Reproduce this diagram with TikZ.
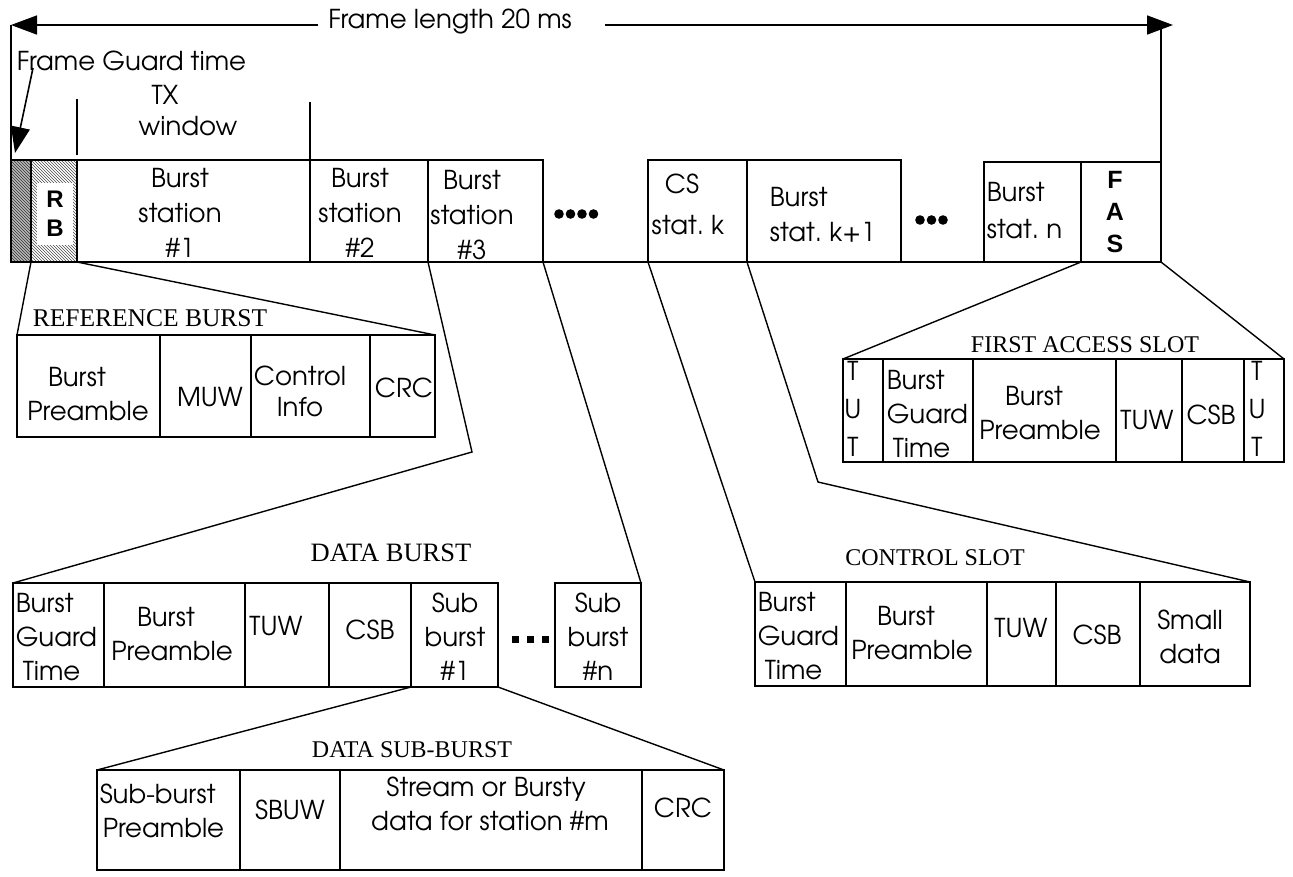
\documentclass[tikz,border=0pt]{standalone}
\usepackage{fontspec}
\setmainfont{texgyreadventor}[Extension=.otf,UprightFont=*-regular,BoldFont=*-bold]
\newfontfamily\ttlfont{Liberation Serif}
\newfontfamily\boldsans{Liberation Sans}
\usetikzlibrary{arrows.meta,patterns}
\begin{document}
\begin{tikzpicture}[x=1pt,y=-1pt,line width=1.6pt,
  cellbox/.style={draw,rectangle,inner sep=0pt,outer sep=0pt,anchor=north west},
  txt/.style={font=\fontsize{26}{34}\selectfont,inner sep=0pt,align=center},
  ttl/.style={font=\ttlfont\fontsize{24}{26}\selectfont,inner sep=0pt},
  conn/.style={line width=1.4pt},
  bigarrow/.style={-{Triangle[length=26pt,width=19pt]},line width=1.6pt}]
\useasboundingbox (0,0) rectangle (1293,876);
% ---------- top arrows ----------
\node[txt] (fl) at (450,22) {Frame length 20 ms};
\coordinate (tl) at (11,25);
\coordinate (tr) at (1173,25);
\coordinate (fla) at (318,25);
\coordinate (flb) at (605,25);
\coordinate (trv) at (1161,25);
\draw[bigarrow] (fla) -- (tl);
\draw[bigarrow] (flb) -- (tr);
\node[txt,anchor=west] (fgt) at (16,61) {Frame Guard time};
\coordinate (ga) at (33,68);
\coordinate (gb) at (15,153);
\draw[bigarrow] (ga) -- (gb);
\node[txt] (ttx) at (165,95) {TX};
\node[txt] (twin) at (188,126) {window};
\coordinate (tx1a) at (77,99);
\coordinate (tx1b) at (77,155);
\coordinate (tx2a) at (310,102);
\draw (tx1a) -- (tx1b);
% ---------- main bar ----------
\node[cellbox,minimum width=20pt,minimum height=102pt,preaction={fill=gray!55},pattern=north west lines,pattern color=black!80] (fg) at (11,160) {};
\node[cellbox,minimum width=46pt,minimum height=102pt,pattern=north west lines,pattern color=black!70] (rb) at (31,160) {};
\node[fill=white,inner sep=0pt,minimum width=36pt,minimum height=62pt,align=center,font=\boldsans\bfseries\fontsize{24}{29}\selectfont] (rbl) at (55,214) {R\\B};
\draw (rb.north west) rectangle (rb.south east);
\node[cellbox,minimum width=233pt,minimum height=102pt] (b1) at (77,160) {};
\node[cellbox,minimum width=118pt,minimum height=102pt] (b2) at (310,160) {};
\node[cellbox,minimum width=115pt,minimum height=102pt] (b3) at (428,160) {};
\node[cellbox,minimum width=99pt,minimum height=102pt] (cs) at (648,160) {};
\node[cellbox,minimum width=154pt,minimum height=102pt] (bk) at (747,160) {};
\node[cellbox,minimum width=97pt,minimum height=100pt] (bn) at (984,162) {};
\node[cellbox,minimum width=80pt,minimum height=100pt] (fas) at (1081,162) {};
\draw (fg.south west) -- (fas.south east);
\draw (tl) -- (fg.north west);
\draw (trv) -- (fas.north east);
\draw (tx2a) -- (b1.north east);
\node[txt,font=\fontsize{26}{35}\selectfont] (tb1) at (180,213) {Burst\\station\\\#1};
\node[txt,font=\fontsize{26}{35}\selectfont] (tb2) at (360,213) {Burst\\station\\\#2};
\node[txt,font=\fontsize{26}{35}\selectfont] (tb3) at (472,215) {Burst\\station\\\#3};
\node[txt] (tcs1) at (682,184) {CS};
\node[txt] (tcs2) at (688,225) {stat.\ k};
\node[txt,anchor=west,align=left,font=\fontsize{26}{35}\selectfont] (tbk) at (769,215) {Burst\\stat.\ k+1};
\node[txt,anchor=west,align=left,font=\fontsize{26}{37}\selectfont] (tbn) at (986,211) {Burst\\stat.\ n};
\node[txt,font=\boldsans\bfseries\fontsize{25}{32}\selectfont] (tfas) at (1115,212) {F\\A\\S};
\foreach \i in {0,...,3} \fill (559+\i*11.5,214) circle (4.8pt);
\foreach \i in {0,...,2} \fill (920+\i*11.5,220) circle (4.8pt);
% ---------- reference burst ----------
\node[ttl,font=\ttlfont\fontsize{25.5}{27}\selectfont] (trb) at (150,318) {REFERENCE BURST};
\node[cellbox,minimum width=143pt,minimum height=102pt] (r1) at (17,335) {};
\node[cellbox,minimum width=91pt,minimum height=102pt] (r2) at (160,335) {};
\node[cellbox,minimum width=119pt,minimum height=102pt] (r3) at (251,335) {};
\node[cellbox,minimum width=65pt,minimum height=102pt] (r4) at (370,335) {};
\node[txt] (tr1) at (88,394) {\hspace*{-22pt}Burst\\Preamble};
\node[txt] (tr2) at (210,397) {MUW};
\node[txt,font=\fontsize{26}{31}\selectfont] (tr3) at (300,391) {Control\\Info};
\node[txt] (tr4) at (404,388) {CRC};
\draw[conn] (fg.south east) -- (r1.north west);
\draw[conn] (rb.south east) -- (r4.north east);
% ---------- data burst ----------
\node[ttl,font=\ttlfont\fontsize{26.5}{28}\selectfont] (tdb) at (391,553) {DATA BURST};
\node[cellbox,minimum width=91pt,minimum height=104pt] (d1) at (13,583) {};
\node[cellbox,minimum width=141pt,minimum height=104pt] (d2) at (104,583) {};
\node[cellbox,minimum width=84pt,minimum height=104pt] (d3) at (245,583) {};
\node[cellbox,minimum width=82pt,minimum height=104pt] (d4) at (329,583) {};
\node[cellbox,minimum width=87pt,minimum height=104pt] (d5) at (411,583) {};
\node[cellbox,minimum width=86pt,minimum height=104pt] (d6) at (555,583) {};
\node[txt,anchor=west,align=left] (td1) at (15,637) {Burst\\Guard\\\hspace*{7pt}Time};
\node[txt] (td2) at (172,634) {\hspace*{-12pt}Burst\\Preamble};
\node[txt] (td3) at (276,626) {TUW};
\node[txt] (td4) at (370,630) {CSB};
\node[txt] (td5) at (455,637) {Sub\\burst\\\#1};
\node[txt] (td6) at (598,637) {Sub\\burst\\\#n};
\foreach \i in {0,...,2} \fill (512+\i*15,636) rectangle ++(7,7);
\coordinate (k1) at (472,452);
\draw[conn] (b3.south west) -- (k1) -- (d1.north west);
\draw[conn] (b3.south east) -- (d6.north east);
% ---------- data sub-burst ----------
\node[ttl] (tdsb) at (412,750) {DATA SUB-BURST};
\node[cellbox,minimum width=143pt,minimum height=100pt] (s1) at (97,770) {};
\node[cellbox,minimum width=100pt,minimum height=100pt] (s2) at (240,770) {};
\node[cellbox,minimum width=302pt,minimum height=100pt] (s3) at (340,770) {};
\node[cellbox,minimum width=82pt,minimum height=100pt] (s4) at (642,770) {};
\node[txt,anchor=west,align=left] (ts1) at (99,811) {Sub-burst\\\hspace*{3pt}Preamble};
\node[txt] (ts2) at (290,810) {SBUW};
\node[txt] (ts3) at (490,804) {\hspace*{-8pt}Stream or Bursty\\data for station \#m};
\node[txt] (ts4) at (683,808) {CRC};
\draw[conn] (d5.south west) -- (s1.north west);
\draw[conn] (d5.south east) -- (s4.north east);
% ---------- control slot ----------
\node[ttl] (tcsl) at (935,558) {CONTROL SLOT};
\node[cellbox,minimum width=91pt,minimum height=104pt] (c1) at (755,582) {};
\node[cellbox,minimum width=141pt,minimum height=104pt] (c2) at (846,582) {};
\node[cellbox,minimum width=69pt,minimum height=104pt] (c3) at (987,582) {};
\node[cellbox,minimum width=84pt,minimum height=104pt] (c4) at (1056,582) {};
\node[cellbox,minimum width=110pt,minimum height=104pt] (c5) at (1140,582) {};
\node[txt,anchor=west,align=left] (tc1) at (757,636) {Burst\\Guard\\\hspace*{7pt}Time};
\node[txt] (tc2) at (912,633) {\hspace*{-12pt}Burst\\Preamble};
\node[txt] (tc3) at (1021,628) {TUW};
\node[txt] (tc4) at (1097,635) {CSB};
\node[txt] (tc5) at (1190,637) {Small\\data};
\coordinate (k2) at (818,482);
\draw[conn] (cs.south west) -- (c1.north west);
\draw[conn] (bk.south west) -- (k2) -- (c5.north east);
% ---------- first access slot ----------
\node[ttl] (tfasl) at (1085,345) {FIRST ACCESS SLOT};
\node[cellbox,minimum width=40pt,minimum height=103pt] (a1) at (843,359) {};
\node[cellbox,minimum width=90pt,minimum height=103pt] (a2) at (883,359) {};
\node[cellbox,minimum width=143pt,minimum height=103pt] (a3) at (973,359) {};
\node[cellbox,minimum width=66pt,minimum height=103pt] (a4) at (1116,359) {};
\node[cellbox,minimum width=62pt,minimum height=103pt] (a5) at (1182,359) {};
\node[cellbox,minimum width=40pt,minimum height=103pt] (a6) at (1244,359) {};
\node[txt,font=\fontsize{26}{38}\selectfont] (ta1) at (853,409) {T\\U\\T};
\node[txt,anchor=west,align=left] (ta2) at (886,414) {Burst\\Guard\\\hspace*{6pt}Time};
\node[txt] (ta3) at (1040,413) {\hspace*{-12pt}Burst\\Preamble};
\node[txt] (ta4) at (1147,420) {TUW};
\node[txt] (ta5) at (1211,415) {CSB};
\node[txt,font=\fontsize{26}{38}\selectfont] (ta6) at (1257,409) {T\\U\\T};
\draw[conn] (bn.south east) -- (a1.north west);
\draw[conn] (fas.south east) -- (a6.north east);
\end{tikzpicture}
\end{document}
